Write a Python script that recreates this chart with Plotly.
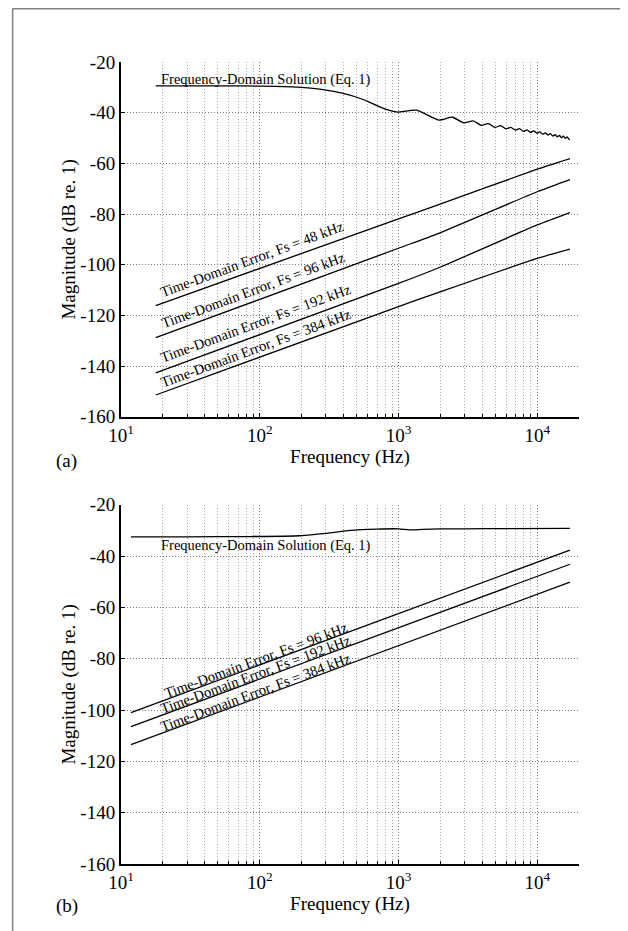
import plotly.graph_objects as go

# ---------------- data ----------------
# Panel (a)
fd_a_freq = [17.8, 40, 80, 130, 200, 270, 350, 440, 530, 610, 700, 780, 850, 920, 990,
             1350, 1950, 2450, 2950, 3450, 3950, 4450, 4950, 5450, 5950, 6450, 6950,
             7450, 7950, 8450, 8950, 9450, 9950, 10450, 10950, 11450, 11950, 12450,
             12950, 13450, 13950, 14450, 14950, 15450, 15950, 16450, 16950, 17200]
fd_a_db = [-29.4, -29.4, -29.45, -29.6, -30.0, -30.7, -31.7, -33.0, -34.4, -35.7, -37.2,
           -38.3, -39.0, -39.5, -39.8,
           -39.0, -42.9, -41.8, -44.0, -43.2, -45.0, -44.3, -45.8, -45.1, -46.4, -45.8,
           -46.9, -46.3, -47.4, -46.8, -47.8, -47.2, -48.1, -47.6, -48.5, -48.0, -48.8,
           -48.3, -49.2, -48.7, -49.5, -49.0, -49.8, -49.3, -50.1, -49.6, -50.5, -50.6]

td_a_freq = [17.8, 1000, 1950, 10000, 17200]
td_a_48 = [-116.1, -81.9, -76.3, -62.3, -58.1]
td_a_96 = [-128.8, -93.5, -87.6, -71.2, -66.4]
td_a_192 = [-142.7, -107.4, -101.2, -84.3, -79.4]
td_a_384 = [-151.4, -116.5, -110.9, -97.5, -93.8]

# Panel (b)
fd_b_freq = [11.8, 30, 85, 195, 300, 450, 700, 1000, 1200, 1500, 2000, 3000, 6000, 17200]
fd_b_db = [-32.5, -32.5, -32.4, -32.1, -31.2, -30.0, -29.5, -29.4, -29.8, -29.6, -29.4,
           -29.4, -29.3, -29.2]

td_b_freq = [11.8, 17200]
td_b_96 = [-101.0, -37.7]
td_b_192 = [-106.5, -43.2]
td_b_384 = [-113.5, -50.2]

fd_label = "Frequency-Domain Solution (Eq. 1)"
td_labels = ["Time-Domain Error, Fs = 48 kHz", "Time-Domain Error, Fs = 96 kHz",
             "Time-Domain Error, Fs = 192 kHz", "Time-Domain Error, Fs = 384 kHz"]

x_tickvals = [10, 100, 1000, 10000]
x_ticktext = ["10<sup>1</sup>", "10<sup>2</sup>", "10<sup>3</sup>", "10<sup>4</sup>"]
y_tickvals = [-20, -40, -60, -80, -100, -120, -140, -160]
y_ticktext = ["-20", "-40", "-60", "-80", "-100", "-120", "-140", "-160"]

# ---------------- figure ----------------
# The page body adds an 8 px offset; the figure is sized so that it fits the window.
OFF = 8
FIG_W, FIG_H = 628 - OFF, 931 - OFF
PL, PR = 120.5, 579.0          # plot left / right (page px)
A_TOP, A_BOT = 62.0, 417.0     # panel (a) (page px)
B_TOP, B_BOT = 505.0, 864.5    # panel (b) (page px)
FONT = "Liberation Serif, Times New Roman, serif"

fig = go.Figure()

def add(x, y, xa, ya, shape="spline"):
    fig.add_trace(go.Scatter(x=x, y=y, mode="lines",
                             line=dict(color="black", width=1.3, shape=shape, smoothing=0.6),
                             xaxis=xa, yaxis=ya, showlegend=False, hoverinfo="skip"))

add(fd_a_freq, fd_a_db, "x", "y")
for s in (td_a_48, td_a_96, td_a_192, td_a_384):
    add(td_a_freq, s, "x", "y")
add(fd_b_freq, fd_b_db, "x2", "y2")
for s in (td_b_96, td_b_192, td_b_384):
    add(td_b_freq, s, "x2", "y2", "linear")

axis_common = dict(
    showline=True, linecolor="black", linewidth=2, mirror=False,
    ticks="inside", ticklen=4, tickcolor="black", tickwidth=1,
    showgrid=True, gridcolor="#777777", griddash="1px,2px", gridwidth=1,
    zeroline=False, tickfont=dict(family=FONT, size=19, color="black"),
)
xaxis_common = dict(axis_common, type="log", range=[1, 4.301],
                    tickvals=x_tickvals, ticktext=x_ticktext,
                    minor=dict(ticks="inside", ticklen=3, tickcolor="black", showgrid=True,
                               gridcolor="#a8a8a8", griddash="1px,2px", gridwidth=1, dtick="D1"),
                    title=dict(text="Frequency (Hz)",
                               font=dict(family=FONT, size=19, color="black"), standoff=0))
yaxis_common = dict(axis_common, range=[-160, -20], tickvals=y_tickvals, ticktext=y_ticktext,
                    title=dict(text="Magnitude (dB re. 1)",
                               font=dict(family=FONT, size=19, color="black"), standoff=0))

PT, PB = A_TOP, B_BOT
plot_h = PB - PT

def px_x(px):
    return (px - PL) / (PR - PL)

def px_y(py):
    return (PB - py) / plot_h

fig.update_layout(
    width=FIG_W, height=FIG_H,
    margin=dict(l=PL - OFF, r=FIG_W - (PR - OFF), t=PT - OFF, b=FIG_H - (PB - OFF), pad=0),
    paper_bgcolor="white", plot_bgcolor="white",
    font=dict(family=FONT, color="black"),
    xaxis=dict(xaxis_common, domain=[0, 1], anchor="y"),
    yaxis=dict(yaxis_common, domain=[px_y(A_BOT), 1], anchor="x"),
    xaxis2=dict(xaxis_common, domain=[0, 1], anchor="y2"),
    yaxis2=dict(yaxis_common, domain=[0, px_y(B_TOP)], anchor="x2"),
)

ann_font = dict(family=FONT, size=14.5, color="black")
# panel (a) labels
fig.add_annotation(x=2.045, y=-26.9, xref="x", yref="y", text=fd_label, showarrow=False,
                   font=ann_font)
for lbl, (lx, ly) in zip(td_labels, [(1.945, -97.8), (1.952, -109.8), (1.974, -123.1), (1.974, -132.8)]):
    fig.add_annotation(x=lx, y=ly, xref="x", yref="y", text=lbl, showarrow=False,
                       font=ann_font, textangle=-20.2)
# panel (b) labels
fig.add_annotation(x=2.045, y=-36.0, xref="x2", yref="y2", text=fd_label, showarrow=False,
                   font=ann_font)
for lbl, (lx, ly) in zip(td_labels[1:], [(1.975, -80.6), (1.975, -86.1), (1.975, -93.1)]):
    fig.add_annotation(x=lx, y=ly, xref="x2", yref="y2", text=lbl, showarrow=False,
                       font=ann_font, textangle=-20.2)

# panel tags
for tag, ty in (("(a)", 461), ("(b)", 907)):
    fig.add_annotation(x=px_x(66), y=px_y(ty), xref="paper", yref="paper", text=tag,
                       xanchor="center", yanchor="middle",
                       showarrow=False, font=dict(family=FONT, size=19, color="black"))

# outer frame (gray, left and top)
fig.add_shape(type="line", xref="paper", yref="paper", x0=px_x(12), x1=px_x(640),
              y0=px_y(8.8), y1=px_y(8.8), line=dict(color="#808080", width=1.5))
fig.add_shape(type="line", xref="paper", yref="paper", x0=px_x(12), x1=px_x(12),
              y0=px_y(8.8), y1=px_y(940), line=dict(color="#808080", width=1.5))

fig.write_html("out.html")
